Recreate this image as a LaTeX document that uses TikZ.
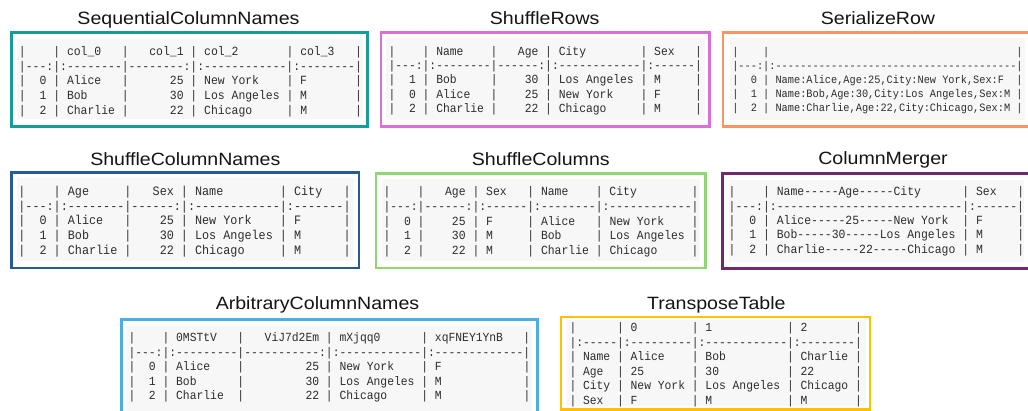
\documentclass[tikz,border=0pt]{standalone}
\usepackage{fontspec}
\setmonofont[FakeStretch=0.9167]{Liberation Mono}
\newfontfamily\titlefont[FakeStretch=1.1]{Liberation Sans}
\definecolor{cteal}{RGB}{22,158,150}
\definecolor{cpink}{RGB}{218,112,214}
\definecolor{corange}{RGB}{247,150,100}
\definecolor{cblue}{RGB}{40,90,150}
\definecolor{cgreen}{RGB}{146,214,116}
\definecolor{cpurple}{RGB}{112,40,112}
\definecolor{clblue}{RGB}{78,174,226}
\definecolor{cgold}{RGB}{255,192,0}
\definecolor{codebg}{RGB}{247,247,247}
\definecolor{codecol}{RGB}{45,45,45}
\definecolor{titlecol}{RGB}{20,20,20}
\tikzset{
  panel/.style={line width=2.6pt},
  gbg/.style={fill=codebg},
  ttl/.style={anchor=base, inner sep=0pt, text=titlecol, font={\titlefont\fontsize{17.8}{20}\selectfont}},
  codeln/.style={anchor=base west, inner sep=0pt, text=codecol},
}
\newcommand\codeblock[6]{%
  \foreach \cl [count=\ci] in {#6} {%
    \node[codeln, font={\ttfamily\fontsize{#5}{#5}\selectfont}] (#1l\ci) at (#2, {#3+(\ci-1)*#4}) {\cl};
  }%
}
\begin{document}
\begin{tikzpicture}[x=1pt,y=-1pt]
\useasboundingbox (0,0) rectangle (1028,411);
\clip (0,0) rectangle (1028,411);
% ---------- Panel 1
\fill[gbg] (16.5,39.5) rectangle (363,119.5);
\draw[panel, cteal] (11.5,32.5) rectangle (367.5,126.5);
\node[ttl] (t1) at (188.5,25) {SequentialColumnNames};
\codeblock{pa}{18.8}{55.6}{14.65}{12.47}{%
{|~~~~|~col\_0~~~|~~~col\_1~|~col\_2~~~~~~~|~col\_3~~~|},
{|---:|:--------|--------:|:------------|:--------|},
{|~~0~|~Alice~~~|~~~~~~25~|~New~York~~~~|~F~~~~~~~|},
{|~~1~|~Bob~~~~~|~~~~~~30~|~Los~Angeles~|~M~~~~~~~|},
{|~~2~|~Charlie~|~~~~~~22~|~Chicago~~~~~|~M~~~~~~~|}}
% ---------- Panel 2
\fill[gbg] (385.5,38.5) rectangle (705,120.5);
\draw[panel, cpink] (381,32.5) rectangle (709.5,126.5);
\node[ttl] (t2) at (544.7,25) {ShuffleRows};
\codeblock{pb}{388.4}{55.2}{14.3}{12.38}{%
{|~~~~|~Name~~~~|~~~Age~|~City~~~~~~~~|~Sex~~~|},
{|---:|:--------|------:|:------------|:------|},
{|~~1~|~Bob~~~~~|~~~~30~|~Los~Angeles~|~M~~~~~|},
{|~~0~|~Alice~~~|~~~~25~|~New~York~~~~|~F~~~~~|},
{|~~2~|~Charlie~|~~~~22~|~Chicago~~~~~|~M~~~~~|}}
% ---------- Panel 3
\fill[gbg] (729.5,38.5) rectangle (1024.5,120.5);
\draw[panel, corange] (723,32.5) rectangle (1035,126.5);
\node[ttl] (t3) at (878,25) {SerializeRow};
\codeblock{pc}{732.1}{55.5}{14.1}{11.23}{%
{|~~~~|~~~~~~~~~~~~~~~~~~~~~~~~~~~~~~~~~~~~~~~~|},
{|---:|:---------------------------------------|},
{|~~0~|~Name:Alice,Age:25,City:New~York,Sex:F~~|},
{|~~1~|~Name:Bob,Age:30,City:Los~Angeles,Sex:M~|},
{|~~2~|~Name:Charlie,Age:22,City:Chicago,Sex:M~|}}
% ---------- Panel 4
\fill[gbg] (16.5,178.5) rectangle (353.5,261.5);
\draw[panel, cblue] (11.5,172.5) rectangle (359,268);
\node[ttl] (t4) at (185.3,166) {ShuffleColumnNames};
\codeblock{pd}{18.2}{195.5}{14.7}{12.85}{%
{|~~~~|~Age~~~~~|~~~Sex~|~Name~~~~~~~~|~City~~~|},
{|---:|:--------|------:|:------------|:-------|},
{|~~0~|~Alice~~~|~~~~25~|~New~York~~~~|~F~~~~~~|},
{|~~1~|~Bob~~~~~|~~~~30~|~Los~Angeles~|~M~~~~~~|},
{|~~2~|~Charlie~|~~~~22~|~Chicago~~~~~|~M~~~~~~|}}
% ---------- Panel 5
\fill[gbg] (381.5,179.5) rectangle (699.5,261.5);
\draw[panel, cgreen] (376,173.5) rectangle (705.5,268);
\node[ttl] (t5) at (540.8,166) {ShuffleColumns};
\codeblock{pe}{383.3}{196}{14.6}{12.45}{%
{|~~~~|~~~Age~|~Sex~~~|~Name~~~~|~City~~~~~~~~|},
{|---:|------:|:------|:--------|:------------|},
{|~~0~|~~~~25~|~F~~~~~|~Alice~~~|~New~York~~~~|},
{|~~1~|~~~~30~|~M~~~~~|~Bob~~~~~|~Los~Angeles~|},
{|~~2~|~~~~22~|~M~~~~~|~Charlie~|~Chicago~~~~~|}}
% ---------- Panel 6
\fill[gbg] (728.5,180) rectangle (1024,262);
\draw[panel, cpurple] (722.5,173.5) rectangle (1035,268.5);
\node[ttl] (t6) at (883,164.5) {ColumnMerger};
\codeblock{pf}{728.5}{196}{14.3}{12.49}{%
{|~~~~|~Name-----Age-----City~~~~~~|~Sex~~~|},
{|---:|:---------------------------|:------|},
{|~~0~|~Alice-----25-----New~York~~|~F~~~~~|},
{|~~1~|~Bob-----30-----Los~Angeles~|~M~~~~~|},
{|~~2~|~Charlie-----22-----Chicago~|~M~~~~~|}}
% ---------- Panel 7
\fill[gbg] (125.5,326) rectangle (532,420);
\draw[panel, clblue] (121.5,319.5) rectangle (537.5,420);
\node[ttl] (t7) at (317.5,309.3) {ArbitraryColumnNames};
\codeblock{pg}{128.3}{342}{14.4}{12.38}{%
{|~~~~|~0MSTtV~~~|~~~ViJ7d2Em~|~mXjqq0~~~~~~|~xqFNEY1YnB~~~|},
{|---:|:---------|-----------:|:------------|:-------------|},
{|~~0~|~Alice~~~~|~~~~~~~~~25~|~New~York~~~~|~F~~~~~~~~~~~~|},
{|~~1~|~Bob~~~~~~|~~~~~~~~~30~|~Los~Angeles~|~M~~~~~~~~~~~~|},
{|~~2~|~Charlie~~|~~~~~~~~~22~|~Chicago~~~~~|~M~~~~~~~~~~~~|}}
% ---------- Panel 8
\fill[gbg] (565.5,320.5) rectangle (866,406.5);
\draw[panel, cgold] (561,317) rectangle (870,409.5);
\node[ttl] (t8) at (716.3,309.3) {TransposeTable};
\codeblock{ph}{569.3}{332}{14.4}{12.36}{%
{|~~~~~~|~0~~~~~~~~|~1~~~~~~~~~~~|~2~~~~~~~|},
{|:-----|:---------|:------------|:--------|},
{|~Name~|~Alice~~~~|~Bob~~~~~~~~~|~Charlie~|},
{|~Age~~|~25~~~~~~~|~30~~~~~~~~~~|~22~~~~~~|},
{|~City~|~New~York~|~Los~Angeles~|~Chicago~|},
{|~Sex~~|~F~~~~~~~~|~M~~~~~~~~~~~|~M~~~~~~~|}}
\end{tikzpicture}
\end{document}
